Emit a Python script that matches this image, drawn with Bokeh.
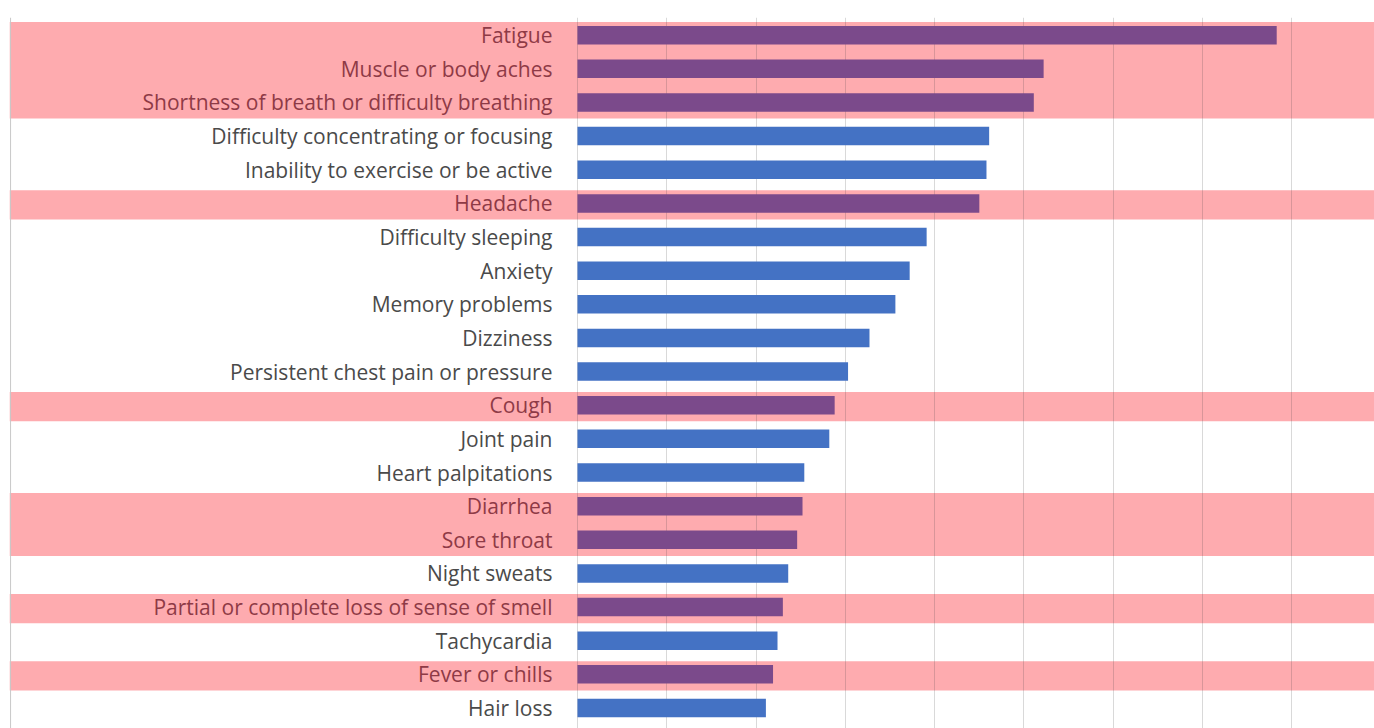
from bokeh.plotting import figure
from bokeh.models import Range1d, FixedTicker, ColumnDataSource, Span, Grid
from bokeh.embed import file_html
from bokeh.resources import INLINE
from bokeh.core.properties import value

symptoms = [
    "Fatigue",
    "Muscle or body aches",
    "Shortness of breath or difficulty breathing",
    "Difficulty concentrating or focusing",
    "Inability to exercise or be active",
    "Headache",
    "Difficulty sleeping",
    "Anxiety",
    "Memory problems",
    "Dizziness",
    "Persistent chest pain or pressure",
    "Cough",
    "Joint pain",
    "Heart palpitations",
    "Diarrhea",
    "Sore throat",
    "Night sweats",
    "Partial or complete loss of sense of smell",
    "Tachycardia",
    "Fever or chills",
    "Hair loss",
]
percent = [78.3, 52.2, 51.1, 46.1, 45.8, 45.0, 39.1, 37.2, 35.6, 32.7, 30.3,
           28.8, 28.2, 25.4, 25.2, 24.6, 23.6, 23.0, 22.4, 21.9, 21.1]
highlighted = [1, 1, 1, 0, 0, 1, 0, 0, 0, 0, 0, 1, 0, 0, 1, 1, 0, 1, 0, 1, 0]
grid_ticks = [0, 10, 20, 30, 40, 50, 60, 70, 80, 90]

PURPLE = "#7B4A8B"
BLUE = "#4472C4"
PINK = "#FEABAF"
RED_TEXT = "#8E3A46"
GRAY_TEXT = "#4A4A4A"

idx = list(range(len(symptoms)))
bar_colors = [PURPLE if h else BLUE for h in highlighted]
text_colors = [RED_TEXT if h else GRAY_TEXT for h in highlighted]

src = ColumnDataSource(dict(
    y=idx, name=symptoms, val=percent, base=[0] * len(idx),
    bar_color=bar_colors, text_color=text_colors,
))

# contiguous highlighted groups -> band extents
band_top, band_bottom = [], []
i = 0
while i < len(highlighted):
    if highlighted[i]:
        j = i
        while j + 1 < len(highlighted) and highlighted[j + 1]:
            j += 1
        band_top.append(i - 0.39)
        band_bottom.append(j + 0.48)
        i = j + 1
    else:
        i += 1

x_start, x_end = -63.6, 89.25

p = figure(
    width=1374, height=728,
    x_range=Range1d(x_start, x_end),
    y_range=Range1d(20.61, -0.526),
    x_axis_location=None, y_axis_location=None,
    output_backend="svg", toolbar_location=None,
    min_border_left=9, min_border_right=0,
    min_border_top=17, min_border_bottom=0,
)
p.outline_line_color = None
p.background_fill_color = "white"
p.border_fill_color = "white"
p.xgrid.visible = False
p.ygrid.visible = False

p.quad(left=[x_start] * len(band_top), right=[x_end] * len(band_top),
       top=band_top, bottom=band_bottom,
       fill_color=PINK, line_color=None, level="image")

p.add_layout(Grid(dimension=0, ticker=FixedTicker(ticks=grid_ticks),
                  grid_line_color="#404040", grid_line_alpha=0.2,
                  grid_line_width=1))

p.add_layout(Span(location=x_start + 0.12, dimension="height",
                  line_color="#c8c8c8", line_width=1))

p.hbar(y="y", left="base", right="val", height=0.55, source=src,
       fill_color="bar_color", line_color=None)

p.text(x="base", y="y", text="name", source=src,
       x_offset=-25, text_align="right", text_baseline="middle",
       text_font=value("Open Sans"), text_font_size="21px",
       text_color="text_color")

open("out.html", "w").write(file_html(p, INLINE))
